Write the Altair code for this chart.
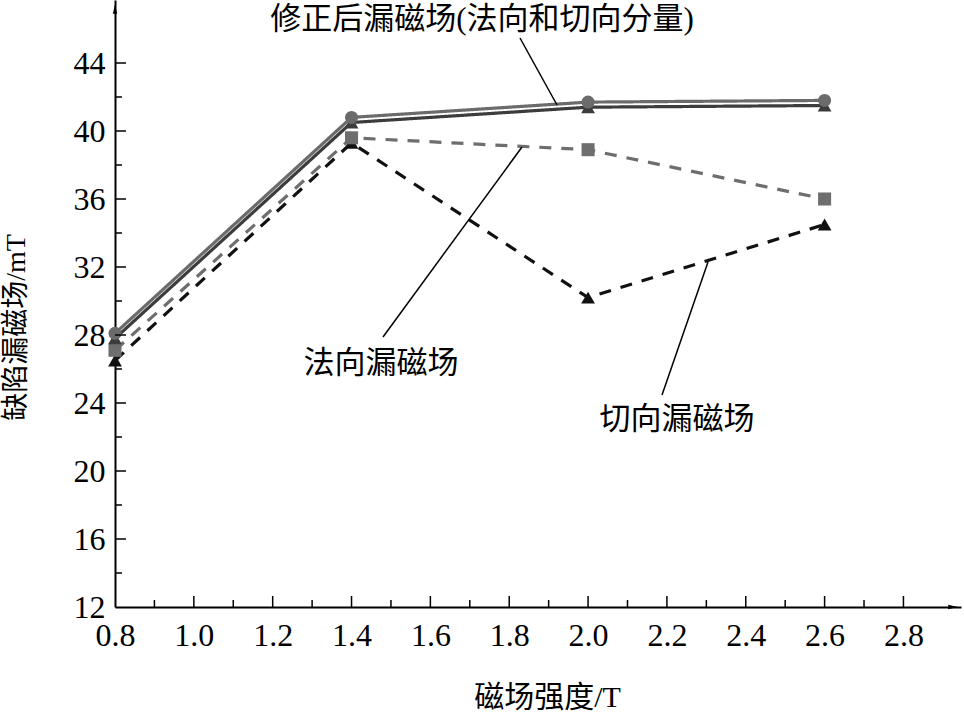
import altair as alt
import pandas as pd

# ---- data ----
field_T = [0.8, 1.4, 2.0, 2.6]
corrected_normal = [28.1, 40.8, 41.7, 41.8]      # circles, gray solid
corrected_tangential = [27.8, 40.5, 41.4, 41.5]  # triangles, dark solid
normal_leak = [27.1, 39.6, 38.9, 36.0]           # squares, gray dashed
tangential_leak = [26.5, 39.3, 30.2, 34.5]       # triangles, black dashed

x_labels = [0.8, 1.0, 1.2, 1.4, 1.6, 1.8, 2.0, 2.2, 2.4, 2.6, 2.8]
x_minor = [0.9, 1.1, 1.3, 1.5, 1.7, 1.9, 2.1, 2.3, 2.5, 2.7]
y_labels = [12, 16, 20, 24, 28, 32, 36, 40, 44]
y_minor = [14, 18, 22, 26, 30, 34, 38, 42]

series_names = ["修正后法向", "修正后切向", "法向漏磁场", "切向漏磁场"]
series_vals = [corrected_normal, corrected_tangential, normal_leak, tangential_leak]

rows = []
for name, vals in zip(series_names, series_vals):
    for xv, yv in zip(field_T, vals):
        rows.append({"series": name, "x": xv, "y": yv})
df = pd.DataFrame(rows)

W, H = 846, 607
FONT = "'Liberation Serif', 'Noto Sans CJK SC', serif"
NUMFONT = "'Liberation Serif', 'Times New Roman', serif"

xs = alt.Scale(domain=[0.8, 2.946], nice=False, zero=False)
ys = alt.Scale(domain=[12, 12 + 607 / 17], nice=False, zero=False)

X = alt.X("x:Q", scale=xs, axis=alt.Axis(
    values=x_labels, format=".1f", title="磁场强度/T", grid=False, ticks=False, tickSize=0,
    domainColor="black", domainWidth=2, labelFont=NUMFONT, labelFontSize=32, labelColor="black",
    labelPadding=13, labelFlush=False, titleFont=FONT, titleFontSize=30, titleFontWeight="normal",
    titleColor="black", titleX=432, titleY=90, titleBaseline="middle", titleAlign="center"))
Y = alt.Y("y:Q", scale=ys, axis=alt.Axis(
    values=y_labels, format="d", title="缺陷漏磁场/mT", grid=False, ticks=False, tickSize=0,
    domainColor="black", domainWidth=2, labelFont=NUMFONT, labelFontSize=32, labelColor="black",
    labelPadding=10, labelFlush=False, titleFont=FONT, titleFontSize=28, titleFontWeight="normal",
    titleColor="black", titleX=-99, titleY=327, titleBaseline="middle", titleAlign="center",
    titleAngle=270))

base = alt.Chart(df).encode(x=X, y=Y)

styles = {
    "修正后法向": dict(color="#6b6b6b", dash=[1, 0], shape="circle", size=170),
    "修正后切向": dict(color="#3c3c3c", dash=[1, 0], shape="triangle-up", size=190),
    "法向漏磁场": dict(color="#6e6e6e", dash=[12, 10], shape="square", size=170),
    "切向漏磁场": dict(color="#111111", dash=[12, 10], shape="triangle-up", size=190),
}

line_layers = []
point_layers = []
for name in ["切向漏磁场", "法向漏磁场", "修正后切向", "修正后法向"]:
    s = styles[name]
    f = base.transform_filter(alt.datum.series == name)
    line_layers.append(f.mark_line(color=s["color"], strokeWidth=3.2, strokeDash=s["dash"]))
    point_layers.append(f.mark_point(color=s["color"], filled=True, opacity=1,
                                     shape=s["shape"], size=s["size"]))

# inward ticks
xmaj = alt.Chart(pd.DataFrame({"x": x_labels[1:]})).mark_rule(color="black", strokeWidth=1.5).encode(
    x=alt.X("x:Q", scale=xs), y=alt.value(H), y2=alt.value(H - 11))
xmin = alt.Chart(pd.DataFrame({"x": x_minor})).mark_rule(color="black", strokeWidth=1.5).encode(
    x=alt.X("x:Q", scale=xs), y=alt.value(H), y2=alt.value(H - 7))
ymaj = alt.Chart(pd.DataFrame({"y": y_labels[1:]})).mark_rule(color="black", strokeWidth=1.5).encode(
    y=alt.Y("y:Q", scale=ys), x=alt.value(0), x2=alt.value(11))
ymin = alt.Chart(pd.DataFrame({"y": y_minor})).mark_rule(color="black", strokeWidth=1.5).encode(
    y=alt.Y("y:Q", scale=ys), x=alt.value(0), x2=alt.value(7))

# arrowheads
arrow_up = alt.Chart(pd.DataFrame({"a": [0]})).mark_point(
    shape="M0,-1L0.45,1L-0.45,1Z", filled=True, color="black", opacity=1, size=90).encode(
    x=alt.value(0), y=alt.value(9))
arrow_right = alt.Chart(pd.DataFrame({"a": [0]})).mark_point(
    shape="M1,0L-1,0.45L-1,-0.45Z", filled=True, color="black", opacity=1, size=90).encode(
    x=alt.value(W - 8), y=alt.value(H))

# annotations
ann_text = ["修正后漏磁场(法向和切向分量)", "法向漏磁场", "切向漏磁场"]
texts = []
for t, (tx, ty) in zip(ann_text, [(367, 20), (266, 364), (562, 420)]):
    texts.append(alt.Chart(pd.DataFrame({"t": [t]})).mark_text(
        font=FONT, fontSize=31, color="black", align="center", baseline="middle").encode(
        text="t:N", x=alt.value(tx), y=alt.value(ty)))
leaders = []
for (x1, y1, x2, y2) in [(405, 38, 442, 105), (268, 337, 407, 147), (547, 395, 593, 262)]:
    leaders.append(alt.Chart(pd.DataFrame({"a": [0]})).mark_rule(color="black", strokeWidth=1.5).encode(
        x=alt.value(x1), y=alt.value(y1), x2=alt.value(x2), y2=alt.value(y2)))

chart = alt.layer(
    *line_layers, *point_layers, xmaj, xmin, ymaj, ymin, arrow_up, arrow_right, *leaders, *texts
).properties(
    width=W, height=H,
    autosize=alt.AutoSizeParams(type="none"),
    padding={"left": 115, "top": 0, "right": 3, "bottom": 109},
    background="white",
).configure_view(stroke=None).configure_axis(labelFont=NUMFONT)

chart.save("out.html", embed_options={"renderer": "svg", "actions": False})
